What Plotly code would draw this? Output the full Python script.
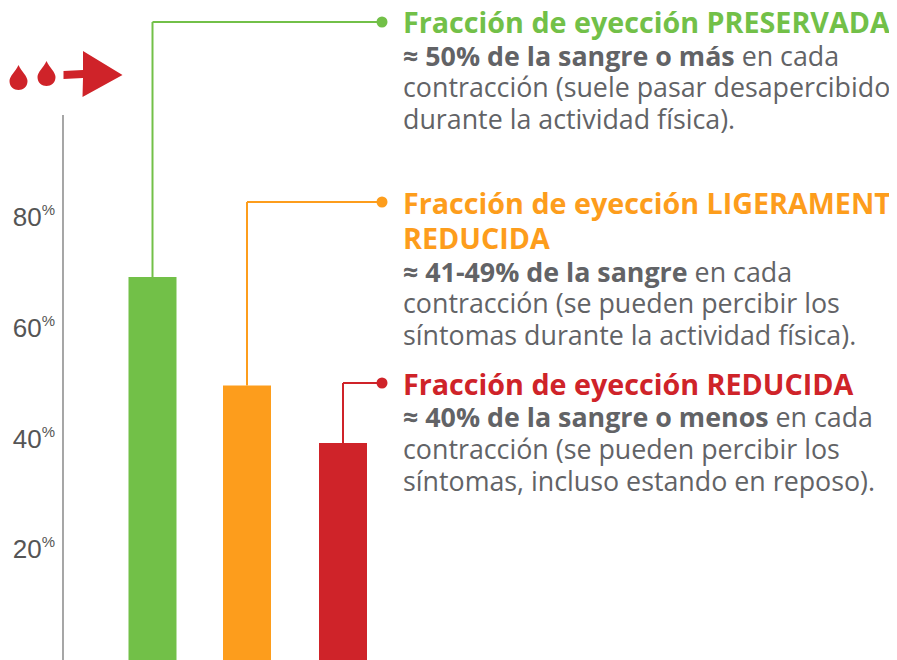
import plotly.graph_objects as go

# page body has an 8 px margin, so figure spans page pixels 8..897 and 8..660
OFF = 8
W, H = 897 - OFF, 660 - OFF

# Data
categories = ["Preservada", "Ligeramente reducida", "Reducida"]
values = [69.2, 49.6, 39.2]
colors = ["#72c048", "#fd9d1c", "#cf2329"]
tick_vals = [20, 40, 60, 80]
tick_text = [f"{v}<sup><span style='font-size:15px'>%</span></sup>" for v in tick_vals]
headline_lines = [
    ["Fracción de eyección PRESERVADA"],
    ["Fracción de eyección LIGERAMENT", "REDUCIDA"],
    ["Fracción de eyección REDUCIDA"],
]
body_lines = [
    ["<b>≈ 50% de la sangre o más</b> en cada", "contracción (suele pasar desapercibido", "durante la actividad física)."],
    ["<b>≈ 41-49% de la sangre</b> en cada", "contracción (se pueden percibir los", "síntomas durante la actividad física)."],
    ["<b>≈ 40% de la sangre o menos</b> en cada", "contracción (se pueden percibir los", "síntomas, incluso estando en reposo)."],
]

FONT = "Open Sans"
GREY = "#626366"

BAR_X_PX = [152.5, 247, 343]
LEADER_Y_PX = [22, 202, 383]
TEXT_X = 401
HEAD_Y = [[22], [202, 238], [383]]
BODY_Y = [[55, 87, 118], [271, 303, 334], [416, 448, 480]]
px_per_unit = 5.535

fig = go.Figure()
fig.add_trace(go.Bar(x=BAR_X_PX, y=values, width=48, marker=dict(color=colors, line_width=0),
                     hovertext=categories, showlegend=False))

def xp(p): return (p - OFF) / W
def yp(p): return 1 - (p - OFF) / H

shapes = []
shapes.append(dict(type="line", xref="paper", yref="y", x0=xp(63), x1=xp(63), y0=0,
                   y1=(660 - 115) / px_per_unit, line=dict(color="#777777", width=1.3)))
annotations = []
for i, c in enumerate(colors):
    top = values[i]
    ly = LEADER_Y_PX[i]
    shapes.append(dict(type="line", xref="x", yref="y", x0=BAR_X_PX[i], x1=BAR_X_PX[i], y0=top,
                       y1=(660 - ly) / px_per_unit, line=dict(color=c, width=2)))
    shapes.append(dict(type="line", xref="x", yref="paper", x0=BAR_X_PX[i], x1=382, y0=yp(ly), y1=yp(ly),
                       line=dict(color=c, width=2)))
    shapes.append(dict(type="circle", xref="paper", yref="paper", x0=xp(376.5), x1=xp(387.5),
                       y0=yp(ly + 5.5), y1=yp(ly - 5.5), fillcolor=c, line_width=0))
    for t, y in zip(headline_lines[i], HEAD_Y[i]):
        annotations.append(dict(text=f"<b>{t}</b>", x=xp(TEXT_X), y=yp(y), xref="paper", yref="paper",
                                xanchor="left", yanchor="middle", showarrow=False, align="left",
                                font=dict(family=FONT, size=28.7, color=c)))
    for t, y in zip(body_lines[i], BODY_Y[i]):
        annotations.append(dict(text=t, x=xp(TEXT_X), y=yp(y), xref="paper", yref="paper",
                                xanchor="left", yanchor="middle", showarrow=False, align="left",
                                font=dict(family=FONT, size=26.8, color=GREY)))

RED = "#cf2329"
def drop(cx, top, bot, hw):
    cy = bot - hw
    return (f"M {xp(cx)} {yp(top)} C {xp(cx+0.35*hw)} {yp(top+7)} {xp(cx+hw)} {yp(cy-5)} {xp(cx+hw)} {yp(cy)} "
            f"C {xp(cx+hw)} {yp(bot+3)} {xp(cx-hw)} {yp(bot+3)} {xp(cx-hw)} {yp(cy)} "
            f"C {xp(cx-hw)} {yp(cy-5)} {xp(cx-0.35*hw)} {yp(top+7)} {xp(cx)} {yp(top)} Z")
for d in [drop(18.5, 65, 90, 9), drop(46.5, 61, 86, 9)]:
    shapes.append(dict(type="path", xref="paper", yref="paper", path=d, fillcolor=RED, line_width=0))
arrow = [(63.5, 71), (83, 70), (83, 51), (122.5, 75), (82.5, 97), (83, 78), (63.5, 79)]
shapes.append(dict(type="path", xref="paper", yref="paper", fillcolor=RED, line_width=0,
                   path="M " + " L ".join(f"{xp(a)} {yp(b)}" for a, b in arrow) + " Z"))

fig.update_layout(
    width=W, height=H, margin=dict(l=0, r=0, t=0, b=0), paper_bgcolor="white", plot_bgcolor="white",
    showlegend=False, shapes=shapes, annotations=annotations,
    xaxis=dict(range=[OFF, 897], visible=False, domain=[0, 1], fixedrange=True),
    yaxis=dict(range=[0, H / px_per_unit], domain=[0, 1], anchor="free", position=xp(55), side="left",
               tickvals=tick_vals, ticktext=tick_text, ticks="", showgrid=False, zeroline=False, showline=False,
               tickfont=dict(family="Liberation Sans", size=26, color="#555555"), fixedrange=True),
)
fig.write_html("out.html", config={"displayModeBar": False})
